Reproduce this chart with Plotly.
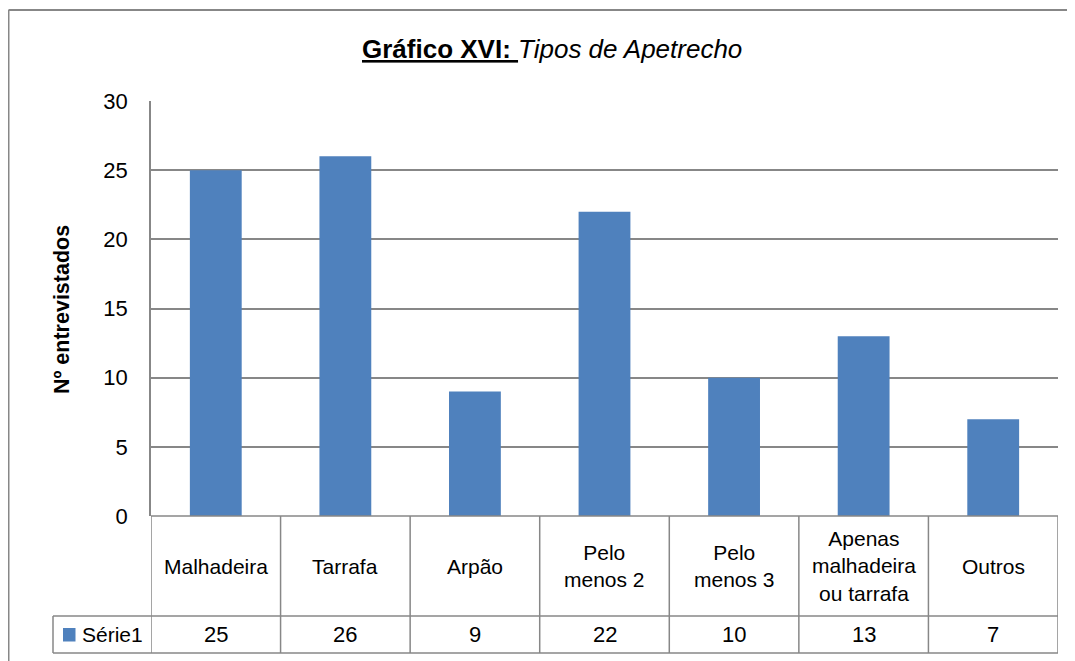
import plotly.graph_objects as go

categories = ["Malhadeira", "Tarrafa", "Arpão", "Pelo<br>menos 2", "Pelo<br>menos 3",
              "Apenas<br>malhadeira<br>ou tarrafa", "Outros"]
values = [25, 26, 9, 22, 10, 13, 7]
series_name = "Série1"
y_ticks = [0, 5, 10, 15, 20, 25, 30]

BLUE = "#4F81BD"
GRID = "#878787"
FONT = "Liberation Sans, Arial, sans-serif"

# page has an 8px body margin: work in page coordinates and shift
OFF = 8
W, H = 1075, 661
L, R, T, B = 151 - OFF, 25, 101 - OFF, 153
pw, ph = W - L - R, H - T - B

def px(x):
    return (x - OFF - L) / pw

def py(y):
    return (H - B - (y - OFF)) / ph

idx = list(range(len(categories)))

fig = go.Figure()
fig.add_trace(go.Bar(x=idx, y=values, width=0.4, marker=dict(color=BLUE, line=dict(width=0)),
                     name=series_name, showlegend=False))

shapes = []
line = dict(color=GRID, width=1.5)
# outer border
shapes.append(dict(type="line", xref="paper", yref="paper", x0=px(8.5), x1=px(8.5), y0=py(700), y1=py(10),
                   line=dict(color=GRID, width=2)))
shapes.append(dict(type="line", xref="paper", yref="paper", x0=px(8.5), x1=px(1100), y0=py(10), y1=py(10),
                   line=dict(color=GRID, width=2)))
# table horizontal lines
shapes.append(dict(type="line", xref="paper", yref="paper", x0=0, x1=1, y0=0, y1=0, line=line))
for yy in (616, 653):
    shapes.append(dict(type="line", xref="paper", yref="paper", x0=px(53), x1=1, y0=py(yy), y1=py(yy), line=line))
# legend cell left
shapes.append(dict(type="line", xref="paper", yref="paper", x0=px(53), x1=px(53), y0=py(616), y1=py(653), line=line))
# vertical column boundaries
for i in range(len(categories) + 1):
    shapes.append(dict(type="line", xref="x", yref="paper", x0=i - 0.5, x1=i - 0.5, y0=0, y1=py(653), line=line))
# legend square
shapes.append(dict(type="rect", xref="paper", yref="paper", x0=px(63), x1=px(75.5), y0=py(628), y1=py(641.5),
                   fillcolor=BLUE, line=dict(width=0)))

annotations = []
for i, (c, v) in enumerate(zip(categories, values)):
    annotations.append(dict(x=i, y=py(566), xref="x", yref="paper", text=c, showarrow=False,
                            font=dict(family=FONT, size=21, color="#000"), yanchor="middle"))
    annotations.append(dict(x=i, y=py(634), xref="x", yref="paper", text=str(v), showarrow=False,
                            font=dict(family=FONT, size=22, color="#000"), yanchor="middle"))
annotations.append(dict(x=px(80), y=py(634), xref="paper", yref="paper", text=series_name, showarrow=False,
                        xanchor="left", yanchor="middle", font=dict(family=FONT, size=21, color="#000")))
annotations.append(dict(x=px(552), y=py(49), xref="paper", yref="paper",
                        text="<b><u>Gráfico XVI: </u></b><i>Tipos de Apetrecho</i>", showarrow=False,
                        xanchor="center", yanchor="middle", font=dict(family=FONT, size=26, color="#000")))
annotations.append(dict(x=px(62), y=py(310), xref="paper", yref="paper", text="<b>Nº entrevistados</b>",
                        showarrow=False, textangle=-90, xanchor="center", yanchor="middle",
                        font=dict(family=FONT, size=21.5, color="#000")))

fig.update_layout(
    width=W, height=H,
    margin=dict(l=L, r=R, t=T, b=B, autoexpand=False),
    paper_bgcolor="white", plot_bgcolor="white",
    shapes=shapes, annotations=annotations, showlegend=False,
    xaxis=dict(range=[-0.5, len(categories) - 0.5], showticklabels=False, showgrid=False,
               zeroline=False, showline=False, fixedrange=True),
    yaxis=dict(range=[0, 30], tickvals=y_ticks, showgrid=True, gridcolor=GRID, gridwidth=1.5,
               zeroline=False, showline=True, linecolor=GRID, linewidth=1.5,
               ticks="", ticklabelstandoff=17,
               tickfont=dict(family=FONT, size=22, color="#000")),
)

fig.write_html("out.html")
